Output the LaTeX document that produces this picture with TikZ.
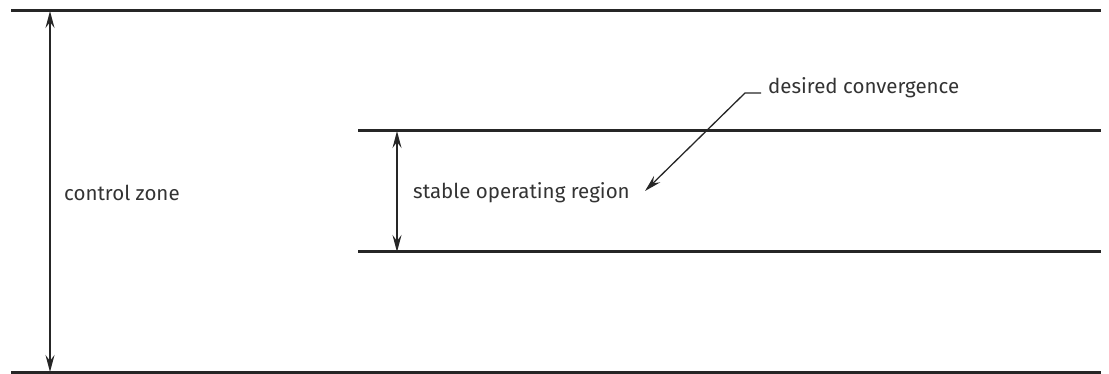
\documentclass[tikz,border=0pt]{standalone}
\usepackage{fontspec}
\setmainfont{Fira Sans}
\usepackage{tikz}
\usetikzlibrary{arrows.meta}

\begin{document}
\begin{tikzpicture}[x=1pt,y=-1pt]
	\useasboundingbox (0,0) rectangle (1109,374);
	\begin{scope}[every node/.style = {anchor=west, inner sep=0pt,
		font = \fontsize{20.5}{24}\selectfont, text=black!80}]
		\node (zone) at (64,193) {control zone};
		\node (region) at (413,193) {stable operating region};
		\node (goal) at (768,88) {desired convergence};
	\end{scope}
	\coordinate (outerTL) at (11,11);
	\coordinate (outerTR) at (1101,11);
	\coordinate (outerBL) at (11,372);
	\coordinate (outerBR) at (1101,372);
	\coordinate (innerTL) at (358,131);
	\coordinate (innerTR) at (1101,131);
	\coordinate (innerBL) at (358,252);
	\coordinate (innerBR) at (1101,252);
	\coordinate (lead) at (761,93);
	\coordinate (knee) at (745,93);
	\coordinate (tip) at (645,191);
	\begin{scope}[every edge/.style={draw=black!85, line width=3pt}]
		\path (outerTL) edge (outerTR);
		\path (outerBL) edge (outerBR);
		\path (innerTL) edge (innerTR);
		\path (innerBL) edge (innerBR);
	\end{scope}
	\begin{scope}[>={Stealth[length=17pt, width=9pt, inset=6pt]},
			every edge/.style={draw=black!85, line width=1.3pt}]
		\path [<->] (outerTL -| 50,0) edge (outerBL -| 50,0);
		\path [<->] (innerTL -| 397,0) edge (innerBL -| 397,0);
		\draw [->, draw=black!85, line width=1.3pt] (lead) -- (knee) -- (tip);
	\end{scope}

\end{tikzpicture}
\end{document}
